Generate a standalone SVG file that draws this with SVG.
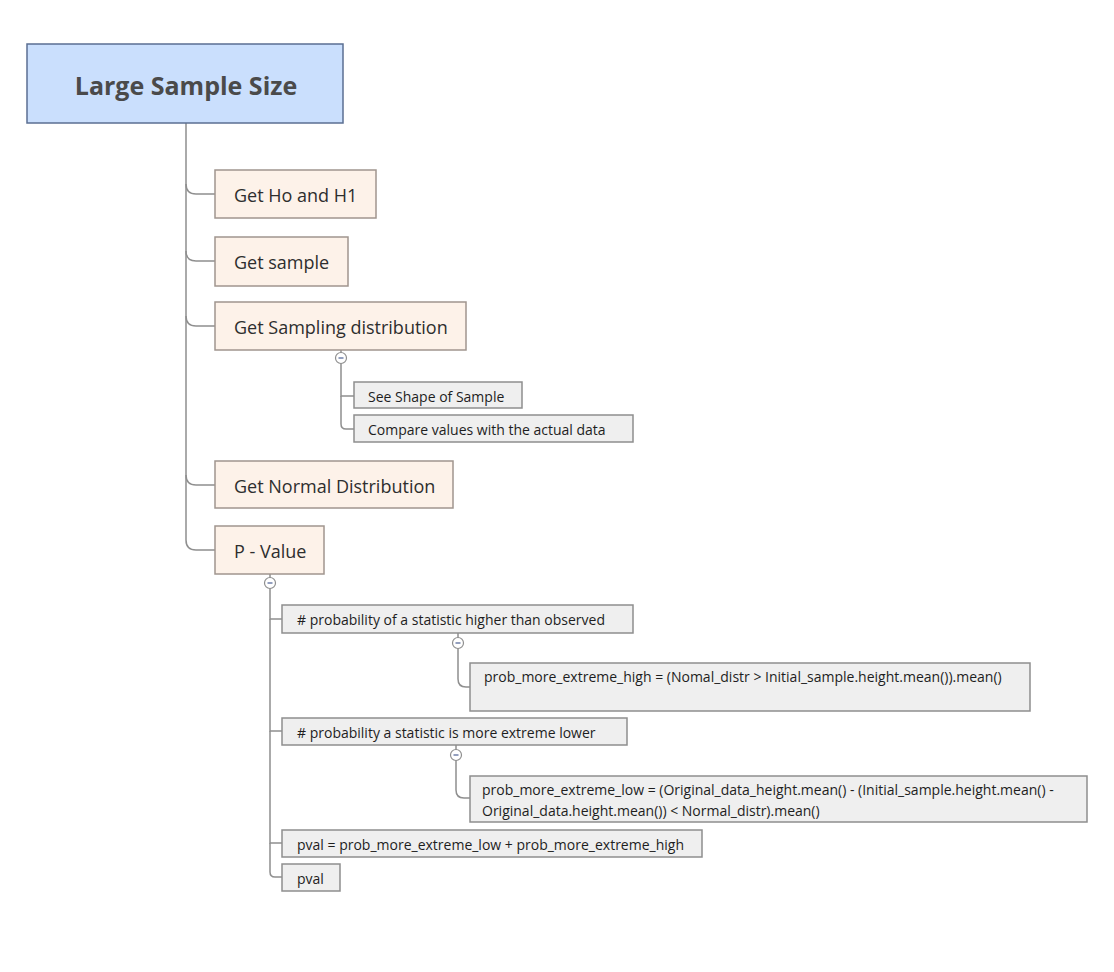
<svg xmlns="http://www.w3.org/2000/svg" width="1114" height="972" viewBox="0 0 1114 972">
<style>
.bg{fill:#ffffff}
.root{fill:#cadffd;stroke:#5b6f92;stroke-width:1.5}
.rt{font-family:"Open Sans","Liberation Sans",sans-serif;font-weight:bold;font-size:25px;fill:#4a4a4a}
.main{fill:#fdf2e9;stroke:#a0958e;stroke-width:1.5}
.mt{font-family:"Open Sans","Liberation Sans",sans-serif;font-size:18px;fill:#2e2e2e}
.sub{fill:#efefef;stroke:#8e8e8e;stroke-width:1.5}
.st{font-family:"Open Sans","Liberation Sans",sans-serif;font-size:14px;fill:#1e1e1e}
.con{fill:none;stroke:#8f8f8f;stroke-width:1.5}
.tog{fill:#ffffff;stroke:#8f8f8f;stroke-width:1.2}
.minus{stroke:#6f7fa8;stroke-width:1.5}
</style>
<rect class="bg" x="0" y="0" width="1114" height="972"/>
<g id="connectors">
  <path class="con" d="M186 123 V184 Q186 194 196 194 H215"/>
  <path class="con" d="M186 184 V251 Q186 261 196 261 H215"/>
  <path class="con" d="M186 251 V316 Q186 326 196 326 H215"/>
  <path class="con" d="M186 316 V475 Q186 485 196 485 H215"/>
  <path class="con" d="M186 475 V540 Q186 550 196 550 H215"/>
  <path class="con" d="M341 350 V353"/>
  <path class="con" d="M341 363 V396 H354"/>
  <path class="con" d="M341 396 V424 Q341 429 346 429 H354"/>
  <path class="con" d="M270 574 V578"/>
  <path class="con" d="M270 588 V619 H282"/>
  <path class="con" d="M270 619 V731 H282"/>
  <path class="con" d="M270 731 V843 H282"/>
  <path class="con" d="M270 843 V872 Q270 877 275 877 H282"/>
  <path class="con" d="M458 633 V638"/>
  <path class="con" d="M458 648 V679 Q458 687 466 687 H470"/>
  <path class="con" d="M456 745 V750"/>
  <path class="con" d="M456 760 V790 Q456 798 464 798 H470"/>
</g>
<g id="toggles">
  <circle class="tog" cx="341" cy="358" r="5.5"/><line class="minus" x1="338.5" y1="358" x2="343.5" y2="358"/>
  <circle class="tog" cx="270" cy="583" r="5.5"/><line class="minus" x1="267.5" y1="583" x2="272.5" y2="583"/>
  <circle class="tog" cx="458" cy="643" r="5.5"/><line class="minus" x1="455.5" y1="643" x2="460.5" y2="643"/>
  <circle class="tog" cx="456" cy="755" r="5.5"/><line class="minus" x1="453.5" y1="755" x2="458.5" y2="755"/>
</g>
<g id="root">
  <rect class="root" x="27" y="44" width="316" height="79"/>
  <text class="rt" x="186" y="95" text-anchor="middle">Large Sample Size</text>
</g>
<g id="n1">
  <rect class="main" x="215" y="170" width="161" height="48"/>
  <text class="mt" x="234" y="202">Get Ho and H1</text>
</g>
<g id="n2">
  <rect class="main" x="215" y="237" width="133" height="49"/>
  <text class="mt" x="234" y="269">Get sample</text>
</g>
<g id="n3">
  <rect class="main" x="215" y="302" width="251" height="48"/>
  <text class="mt" x="234" y="334">Get Sampling distribution</text>
</g>
<g id="n3a">
  <rect class="sub" x="354" y="382" width="168" height="26"/>
  <text class="st" x="368" y="402">See Shape of Sample</text>
</g>
<g id="n3b">
  <rect class="sub" x="354" y="415" width="279" height="27"/>
  <text class="st" x="368" y="435">Compare values with the actual data</text>
</g>
<g id="n4">
  <rect class="main" x="215" y="461" width="238" height="47"/>
  <text class="mt" x="234" y="493">Get Normal Distribution</text>
</g>
<g id="n5">
  <rect class="main" x="215" y="526" width="109" height="48"/>
  <text class="mt" x="234" y="558">P - Value</text>
</g>
<g id="n5a">
  <rect class="sub" x="282" y="605" width="351" height="28"/>
  <text class="st" x="297" y="625"># probability of a statistic higher than observed</text>
</g>
<g id="n5a1">
  <rect class="sub" x="470" y="663" width="560" height="48"/>
  <text class="st" x="484" y="682">prob_more_extreme_high = (Nomal_distr &gt; Initial_sample.height.mean()).mean()</text>
</g>
<g id="n5b">
  <rect class="sub" x="282" y="718" width="345" height="27"/>
  <text class="st" x="297" y="738"># probability a statistic is more extreme lower</text>
</g>
<g id="n5b1">
  <rect class="sub" x="470" y="776" width="617" height="46"/>
  <text class="st" x="482" y="795">prob_more_extreme_low = (Original_data_height.mean() - (Initial_sample.height.mean() -</text>
  <text class="st" x="482" y="816">Original_data.height.mean()) &lt;  Normal_distr).mean()</text>
</g>
<g id="n5c">
  <rect class="sub" x="282" y="830" width="420" height="27"/>
  <text class="st" x="297" y="850">pval = prob_more_extreme_low + prob_more_extreme_high</text>
</g>
<g id="n5d">
  <rect class="sub" x="282" y="864" width="58" height="27"/>
  <text class="st" x="297" y="884">pval</text>
</g>
</svg>
